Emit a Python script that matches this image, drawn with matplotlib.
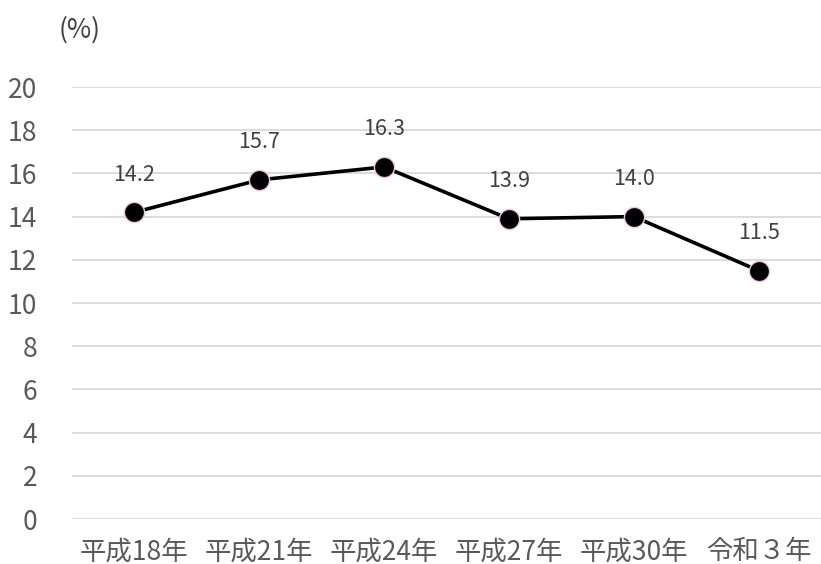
import matplotlib
matplotlib.use('Agg')
import matplotlib.pyplot as plt

# survey years and rates (%)
years = ['平成18年', '平成21年', '平成24年', '平成27年', '平成30年', '令和３年']
rates = [14.2, 15.7, 16.3, 13.9, 14.0, 11.5]
yticks = [0, 2, 4, 6, 8, 10, 12, 14, 16, 18, 20]

plt.rcParams['font.family'] = ['Noto Sans CJK JP', 'DejaVu Sans']

fig = plt.figure(figsize=(8.21, 5.64), dpi=100)
ax = fig.add_axes([72/821, 1-519/564, 749/821, (519-87)/564])

x = list(range(len(years)))
ax.plot(x, rates, '-', color='black', linewidth=2.6, zorder=3)
ax.plot(x, rates, 'o', markersize=14.5, markerfacecolor='black',
        markeredgecolor='#f2c4e4', markeredgewidth=1.0, zorder=4)

for xi, v in zip(x, rates):
    ax.annotate('%.1f' % v, (xi, v), xytext=(0, 27), textcoords='offset points',
                ha='center', va='center', fontsize=15.5, color='#404040')

ax.set_xlim(-0.5, len(years) - 0.5)
ax.set_ylim(0, 20)
ax.set_yticks(yticks)
ax.set_xticks(x)
ax.set_xticklabels(years)
ax.grid(axis='y', color='#d9d9d9', linewidth=1.3, zorder=0)
ax.set_axisbelow(True)
for s in ax.spines.values():
    s.set_visible(False)
ax.tick_params(axis='y', length=0, colors='#595959', labelsize=19, pad=25)
ax.tick_params(axis='x', length=0, colors='#595959', labelsize=19, pad=14)

fig.text(80/821, 1-30/564, '(%)', fontsize=19, color='#404040',
         ha='center', va='center')

fig.savefig('out.png', dpi=100)
